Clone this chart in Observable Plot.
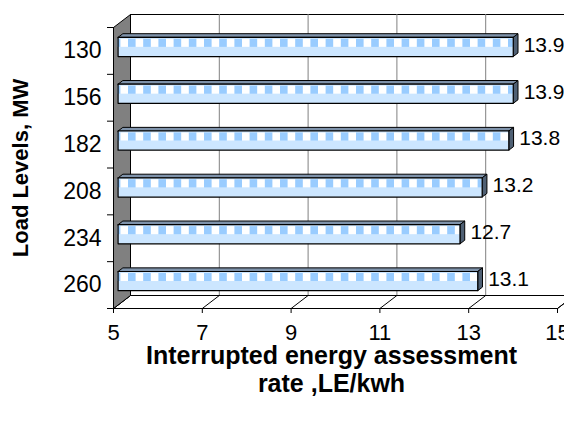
<!DOCTYPE html>
<html><head><meta charset="utf-8">
<script src="https://cdn.jsdelivr.net/npm/d3@7"></script>
<script src="https://cdn.jsdelivr.net/npm/@observablehq/plot@0.6"></script>
<style>body{margin:0;background:#fff;} svg{display:block}</style>
</head><body>
<svg width="0" height="0" style="position:absolute">
<defs>
<pattern id="dither" patternUnits="userSpaceOnUse" width="2" height="2">
<rect width="2" height="2" fill="#fff"/><rect width="1" height="1" fill="#99ccff"/><rect x="1" y="1" width="1" height="1" fill="#99ccff"/>
</pattern>
<pattern id="squares" patternUnits="userSpaceOnUse" x="128" width="15.2" height="400">
<rect width="7.6" height="400" fill="#99ccff"/><rect x="7.6" width="7.6" height="400" fill="#fff"/>
</pattern>
</defs></svg>
<div id="chart"></div>
<script>
const loadLevels = ["130", "156", "182", "208", "234", "260"];
const rates = [13.9, 13.9, 13.8, 13.2, 12.7, 13.1];
const xTicks = [5, 7, 9, 11, 13, 15];
const xTitle1 = "Interrupted energy assessment";
const xTitle2 = "rate ,LE/kwh";
const yTitle = "Load Levels, MW";

const W = 564, H = 421, mL = 113, mR = 7, mT = 27, mB = 113;
const pxX = (W - mL - mR) / (xTicks[xTicks.length - 1] - xTicks[0]);
const pxY = (H - mT - mB) / loadLevels.length;
const DX = 17 / pxX, DY = -13 / pxY;   // full depth of the 3-D box in data units
const x0 = xTicks[0], x1 = xTicks[xTicks.length - 1], n = loadLevels.length;
const pt = (x, y, d) => ({x: x + d * DX, y: y + d * DY});
const poly = (pts, key) => pts.concat([pts[0]]).map(p => ({...p, key}));

const backWall = poly([pt(x0, 0, 1), pt(x1, 0, 1), pt(x1, n, 1), pt(x0, n, 1)], "b");
const floor = poly([pt(x0, n, 0), pt(x1, n, 0), pt(x1, n, 1), pt(x0, n, 1)], "f");
const leftWall = poly([pt(x0, 0, 0), pt(x0, 0, 1), pt(x0, n, 1), pt(x0, n, 0)], "l");

const d1 = 0.27, d2 = 0.55, b1 = 0.285, b2 = 0.695;
const topFaces = [], sideFaces = [], frontFaces = [];
rates.forEach((v, i) => {
  const ya = i + b1, yb = i + b2;
  topFaces.push(...poly([pt(x0, ya, d1), pt(v, ya, d1), pt(v, ya, d2), pt(x0, ya, d2)], "t" + i));
  sideFaces.push(...poly([pt(v, ya, d1), pt(v, ya, d2), pt(v, yb, d2), pt(v, yb, d1)], "s" + i));
  frontFaces.push(...poly([pt(x0, ya, d1), pt(v, ya, d1), pt(v, yb, d1), pt(x0, yb, d1)], "f" + i));
});

const font = "Liberation Sans, Arial, sans-serif";
const chart = Plot.plot({
  width: W, height: H,
  marginLeft: mL, marginRight: mR, marginTop: mT, marginBottom: mB,
  x: {domain: [x0, x1], range: [mL, W - mR], axis: null},
  y: {domain: [0, n], range: [mT, H - mB], axis: null},
  style: {fontFamily: font, background: "#fff", color: "#000"},
  marks: [
    Plot.line(backWall, {x: "x", y: "y", z: "key", fill: "#fff", stroke: "#000", strokeWidth: 1}),
    Plot.ruleX(xTicks.slice(1), {x: d => d + DX, y1: DY, y2: n + DY, stroke: "#808080", strokeWidth: 1}),
    Plot.line(floor, {x: "x", y: "y", z: "key", fill: "#fff", stroke: "#000", strokeWidth: 1}),
    Plot.link(xTicks, {x1: d => d, y1: n, x2: d => d + DX, y2: n + DY, stroke: "#000", strokeWidth: 1}),
    Plot.line(leftWall, {x: "x", y: "y", z: "key", fill: "#808080", stroke: "#000", strokeWidth: 1}),
    Plot.ruleY(d3.range(n + 1), {y: d => d, x1: x0 - 6 / pxX, x2: x0, stroke: "#000", strokeWidth: 1}),
    Plot.ruleX(xTicks, {x: d => d, y1: n, y2: n + 5 / pxY, stroke: "#000", strokeWidth: 1}),
    Plot.line(topFaces, {x: "x", y: "y", z: "key", fill: "#7f93ab", stroke: "#000", strokeWidth: 1}),
    Plot.line(sideFaces, {x: "x", y: "y", z: "key", fill: "#4f6074", stroke: "#000", strokeWidth: 1}),
    Plot.line(frontFaces, {x: "x", y: "y", z: "key", fill: "url(#dither)", stroke: "none"}),
    Plot.rect(rates, {x1: x0 + d1 * DX, x2: d => d + d1 * DX, y1: (d, i) => i + b1 + d1 * DY + 2 / pxY, y2: (d, i) => i + b1 + d1 * DY + 10 / pxY, fill: "url(#squares)"}),
    Plot.line(frontFaces, {x: "x", y: "y", z: "key", fill: "none", stroke: "#000", strokeWidth: 1.2}),
    Plot.text(xTicks, {x: d => d, y: n, dy: 24, text: d => String(d), fontSize: 22, fill: "#000"}),
    Plot.text(loadLevels, {x: x0, y: (d, i) => i + 0.5, text: d => d, textAnchor: "end", dx: -12, fontSize: 23, fill: "#000"}),
    Plot.text(rates, {x: d => d, y: (d, i) => i + 0.49, text: d => d.toFixed(1), textAnchor: "start", dx: 15, dy: -5.5, fontSize: 21, fill: "#000"}),
    Plot.text([xTitle1], {frameAnchor: "bottom", lineAnchor: "middle", textAnchor: "middle", dx: -4, dy: 47, text: d => d, fontSize: 25, fontWeight: "bold", fill: "#000"}),
    Plot.text([xTitle2], {frameAnchor: "bottom", lineAnchor: "middle", textAnchor: "middle", dx: -4, dy: 75, text: d => d, fontSize: 25, fontWeight: "bold", fill: "#000"}),
    Plot.text([yTitle], {frameAnchor: "left", lineAnchor: "middle", textAnchor: "middle", dx: -93, dy: 0, rotate: -90, text: d => d, fontSize: 22, fontWeight: "bold", fill: "#000"})
  ]
});
document.getElementById("chart").appendChild(chart);
</script>
</body></html>
